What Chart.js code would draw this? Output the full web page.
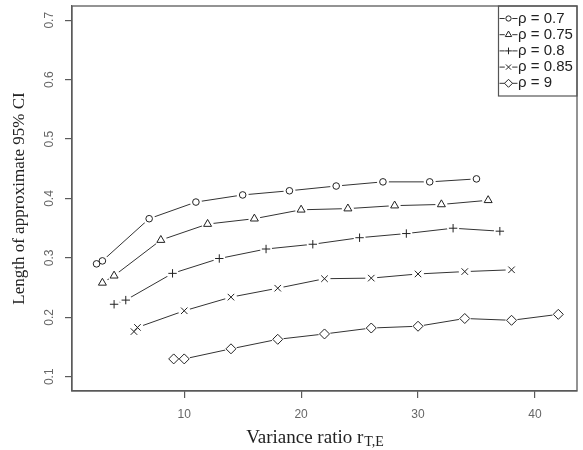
<!DOCTYPE html>
<html><head><meta charset="utf-8">
<script src="https://cdn.jsdelivr.net/npm/chart.js@4.4.1/dist/chart.umd.min.js"></script>
<style>html,body{margin:0;padding:0;background:#fff;}#wrap{width:583px;height:450px;}</style>
</head><body><div id="wrap"><canvas id="c" width="583" height="450"></canvas></div>
<script>
// ---- data ----
const seriesLabels = ['ρ = 0.7', 'ρ = 0.75', 'ρ = 0.8', 'ρ = 0.85', 'ρ = 9'];
const x07  = [2.5, 3, 7, 11, 15, 19, 23, 27, 31, 35];
const y07  = [0.290, 0.295, 0.366, 0.394, 0.406, 0.413, 0.421, 0.428, 0.428, 0.433];
const x075 = [3, 4, 8, 12, 16, 20, 24, 28, 32, 36];
const y075 = [0.258, 0.270, 0.330, 0.357, 0.366, 0.381, 0.383, 0.388, 0.390, 0.397];
const x08  = [4, 5, 9, 13, 17, 21, 25, 29, 33, 37];
const y08  = [0.222, 0.229, 0.274, 0.299, 0.315, 0.323, 0.334, 0.341, 0.350, 0.345];
const x085 = [5.7, 6, 10, 14, 18, 22, 26, 30, 34, 38];
const y085 = [0.176, 0.183, 0.211, 0.234, 0.249, 0.265, 0.266, 0.273, 0.277, 0.280];
const x09  = [9.1, 10, 14, 18, 22, 26, 30, 34, 38, 42];
const y09  = [0.130, 0.130, 0.147, 0.163, 0.172, 0.182, 0.185, 0.198, 0.195, 0.205];
const xTicks = [10, 20, 30, 40];
const yTicks = [0.1, 0.2, 0.3, 0.4, 0.5, 0.6, 0.7];
const xLimits = [2, 42];
const yLimits = [0.1, 0.7];
const xTitleMain = 'Variance ratio r';
const xTitleSub = 'T,E';
const yTitle = 'Length of approximate 95% CI';

// ---- styles ----
const seriesX = [x07, x075, x08, x085, x09];
const seriesY = [y07, y075, y08, y085, y09];
const markerStyles = ['circle', 'triangle', 'cross', 'crossRot', 'rectRot'];
const markerRadii = [3.3, 4.6, 4.2, 4.6, 5];
const INK = '#222';
const AXIS = '#5a5a5a';
const ext = (lim) => { const d = (lim[1] - lim[0]) * 0.04; return [lim[0] - d, lim[1] + d]; };
const xr = ext(xLimits), yr = ext(yLimits);

const datasets = [];
seriesLabels.forEach((lab, i) => {
  const pts = seriesX[i].map((xv, j) => ({x: xv, y: seriesY[i][j]}));
  datasets.push({label: lab, data: pts, showLine: true, borderColor: '#333', borderWidth: 1,
    pointRadius: 0, pointHoverRadius: 0, order: 3});
  datasets.push({label: lab + ' gap', data: pts, showLine: false, pointStyle: 'circle',
    pointRadius: 6, pointBackgroundColor: '#fff', pointBorderWidth: 0, pointBorderColor: '#fff', order: 2});
  datasets.push({label: lab + ' pts', data: pts, showLine: false, pointStyle: markerStyles[i],
    pointRadius: markerRadii[i], pointBackgroundColor: 'rgba(0,0,0,0)', pointBorderColor: INK,
    pointBorderWidth: 1, order: 1});
});

const decor = {
  id: 'decor',
  afterDraw(chart) {
    const ctx = chart.ctx, a = chart.chartArea;
    ctx.save();
    // frame
    ctx.strokeStyle = AXIS; ctx.lineWidth = 1.3;
    ctx.strokeRect(a.left, a.top, a.right - a.left, a.bottom - a.top);
    // legend
    const lx = 498.5, ly = a.top, lw = a.right - 498.5, lh = 90;
    ctx.lineWidth = 1.2; ctx.strokeStyle = '#555';
    ctx.strokeRect(lx, ly, lw, lh);
    ctx.font = '15px "Liberation Sans", Arial, sans-serif';
    ctx.textBaseline = 'middle'; ctx.textAlign = 'left';
    seriesLabels.forEach((lab, i) => {
      const y = ly + 12.5 + 16.2 * i;
      ctx.strokeStyle = '#333'; ctx.lineWidth = 1;
      ctx.beginPath(); ctx.moveTo(lx + 1, y); ctx.lineTo(lx + 19, y); ctx.stroke();
      ctx.fillStyle = '#fff'; ctx.beginPath(); ctx.arc(lx + 10, y, 3.8, 0, Math.PI * 2); ctx.fill();
      ctx.strokeStyle = INK; ctx.fillStyle = 'rgba(0,0,0,0)'; ctx.lineWidth = 1;
      Chart.helpers.drawPoint(ctx, {pointStyle: markerStyles[i], radius: markerRadii[i] * 0.8, borderWidth: 1}, lx + 10, y);
      ctx.fillStyle = INK;
      ctx.fillText(lab, lx + 19.5, y);
    });
    // axis titles
    ctx.fillStyle = INK;
    const fMain = '19px "Liberation Serif", "Times New Roman", serif';
    const fSub = '14px "Liberation Serif", "Times New Roman", serif';
    ctx.font = fMain;
    const wMain = ctx.measureText(xTitleMain).width;
    ctx.font = fSub;
    const wSub = ctx.measureText(xTitleSub).width;
    const cx = 315, by = 443;
    const sx = cx - (wMain + wSub + 1) / 2;
    ctx.textAlign = 'left'; ctx.textBaseline = 'alphabetic';
    ctx.font = fMain;
    ctx.fillText(xTitleMain, sx, by);
    ctx.font = fSub;
    ctx.fillText(xTitleSub, sx + wMain + 1, by + 3);
    ctx.translate(20, (a.top + a.bottom) / 2);
    ctx.rotate(-Math.PI / 2);
    ctx.textAlign = 'center'; ctx.textBaseline = 'middle';
    ctx.font = '17px "Liberation Serif", "Times New Roman", serif';
    ctx.fillText(yTitle, 0, 0);
    ctx.restore();
  }
};

new Chart(document.getElementById('c'), {
  type: 'scatter',
  data: {datasets},
  options: {
    responsive: false, animation: false, devicePixelRatio: 1,
    layout: {padding: {top: 3, right: 3, left: 0, bottom: 0}},
    plugins: {legend: {display: false}, tooltip: {enabled: false}},
    scales: {
      x: {
        type: 'linear', min: xr[0], max: xr[1],
        afterBuildTicks: s => { s.ticks = xTicks.map(v => ({value: v})); },
        afterFit: s => { s.height = 59; s.paddingLeft = 0; s.paddingRight = 0; },
        grid: {drawOnChartArea: false, drawTicks: true, tickLength: 7, color: AXIS, lineWidth: 1.2},
        border: {display: true, color: AXIS, width: 1.2},
        ticks: {padding: 9, color: '#666', font: {family: '"Liberation Sans", Arial, sans-serif', size: 12},
          maxRotation: 0, autoSkip: false, callback: v => String(v)}
      },
      y: {
        type: 'linear', min: yr[0], max: yr[1],
        afterBuildTicks: s => { s.ticks = yTicks.map(v => ({value: v})); },
        afterFit: s => { s.width = 72; s.paddingTop = 0; s.paddingBottom = 0; },
        grid: {drawOnChartArea: false, drawTicks: true, tickLength: 7, color: AXIS, lineWidth: 1.2},
        border: {display: true, color: AXIS, width: 1.2},
        ticks: {padding: 6.5, color: '#666', minRotation: 90, maxRotation: 90, crossAlign: 'center',
          font: {family: '"Liberation Sans", Arial, sans-serif', size: 12}, autoSkip: false,
          callback: v => Number(v).toFixed(1)}
      }
    }
  },
  plugins: [decor]
});
</script></body></html>
